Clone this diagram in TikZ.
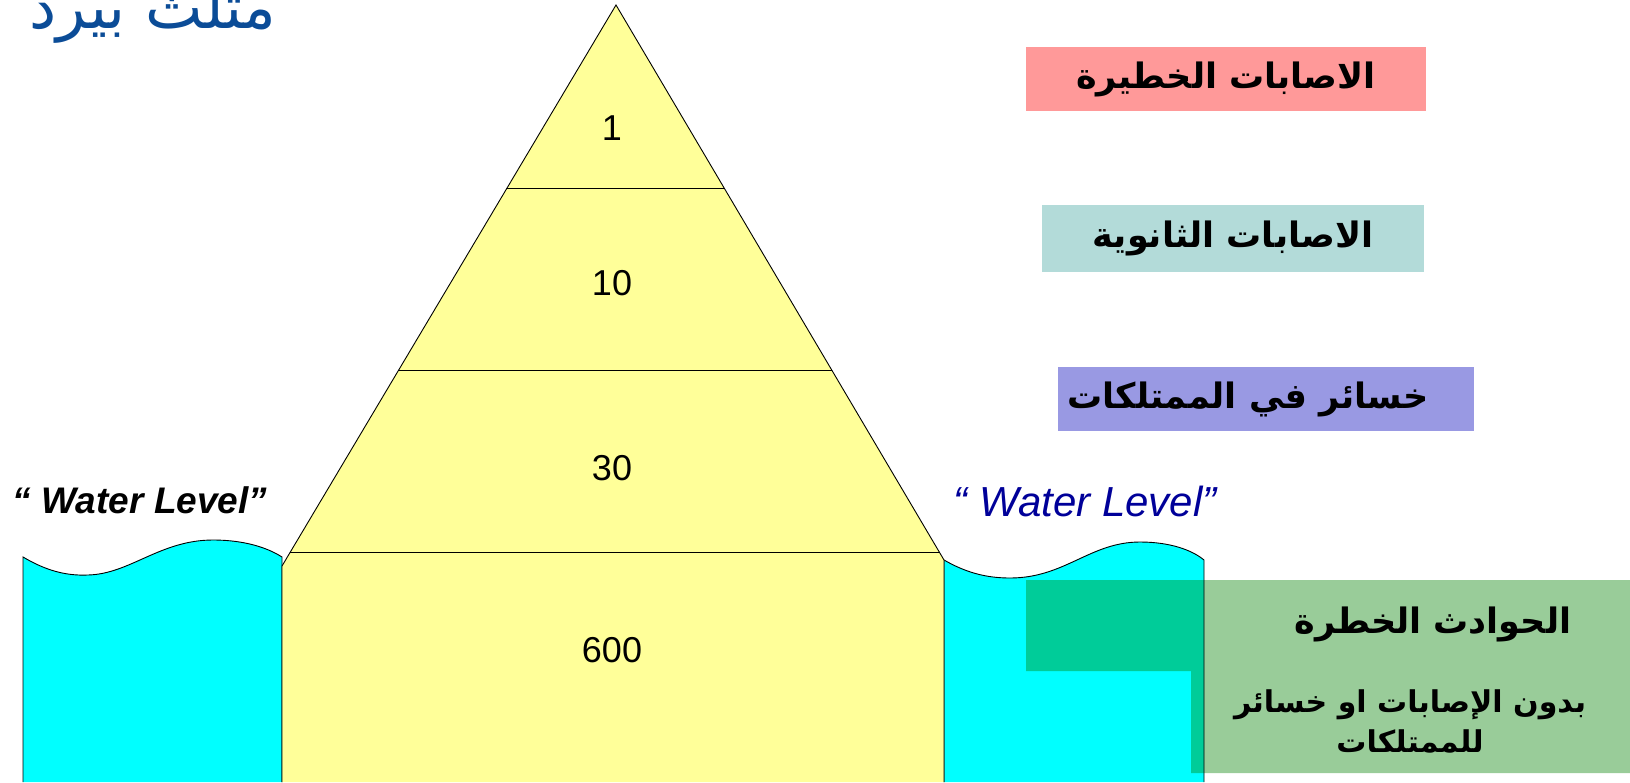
\documentclass[tikz,border=0pt]{standalone}
\usepackage{fontspec}
\setmainfont{Liberation Sans}
\newfontfamily\arabicfont[Script=Arabic]{DejaVu Sans}
\TeXXeTstate=1
\usepackage{tikz}
\usetikzlibrary{calc}
\usepackage{xcolor}
\definecolor{birdyellow}{HTML}{FFFF99}
\definecolor{birdcyan}{HTML}{00FFFF}
\definecolor{birdpink}{HTML}{FF9999}
\definecolor{birdteal}{HTML}{B3DBD9}
\definecolor{birdpurple}{HTML}{9999E3}
\definecolor{birdgreen}{HTML}{99CC99}
\definecolor{birdblue}{HTML}{0B4C97}
\definecolor{birdnavy}{HTML}{000099}
\newcommand{\ar}[1]{\arabicfont\beginR #1\endR}
\tikzset{
  water/.style={fill=birdcyan, draw=black, line width=0.9pt},
  edge/.style={draw=black, line width=0.9pt},
  count/.style={anchor=base, font=\fontsize{36}{40}\selectfont},
  tag/.style={inner sep=0pt, minimum width=400pt, minimum height=64pt,
              font=\bfseries\fontsize{35}{40}\selectfont},
  level/.style={anchor=base, font=\itshape\fontsize{34}{40}\selectfont},
}

\begin{document}
\begin{tikzpicture}[x=1pt, y=-1pt]
\useasboundingbox (0,0) rectangle (1630,782);
% water either side of the pyramid
\path[water] (23,782) -- (23,557)
  .. controls (45,570) and (65,576) .. (88,575)
  .. controls (130,574) and (160,540) .. (213,540)
  .. controls (245,540) and (268,548) .. (282,557) -- (282,782);
\path[water] (944,782) -- (944,560)
  .. controls (965,572) and (985,578) .. (1010,578)
  .. controls (1065,578) and (1090,542) .. (1140,542)
  .. controls (1170,542) and (1192,550) .. (1204,560) -- (1204,782);
% the pyramid
\fill[birdyellow] (616,5) -- (944,560) -- (944,782) -- (282,782) -- (282,566) -- cycle;
\begin{scope}
  \clip (616,5) -- (944,560) -- (944,782) -- (282,782) -- (282,566) -- cycle;
  \foreach \y in {188,370,552}
    \draw[edge] (250,\y) -- (1000,\y);
\end{scope}
\draw[edge] (282,782) -- (282,566) -- (616,5) -- (944,560) -- (944,782);
\node[count] (n1) at (612,140) {1};
\node[count] (n10) at (612,295) {10};
\node[count] (n30) at (612,480) {30};
\node[count] (n600) at (612,662) {600};
% title
\node[anchor=base, text=birdblue, font=\fontsize{61}{66}\selectfont] (title) at (153,28) {\ar{مثلث بيرد}};
% water level
\node[level, font=\bfseries\itshape\fontsize{37}{42}\selectfont] (lvlleft) at (140,513) {“ Water Level”};
\node[level, text=birdnavy, font=\itshape\fontsize{42}{48}\selectfont] (lvlright) at (1085,516) {“ Water Level”};
% categories
\node[tag, fill=birdpink] (severe) at (1226,79) {\ar{الاصابات الخطيرة}};
\node[tag, fill=birdteal, minimum width=382pt, minimum height=67pt] (minor) at (1233,238.5) {\ar{الاصابات الثانوية}};
\node[tag, fill=birdpurple, minimum width=416pt] (property) at (1266,399) {\ar{خسائر في الممتلكات}\hspace*{36pt}};
% near miss box, multiplied over the water
\begin{scope}[blend mode=multiply]
  \fill[birdgreen] (1026,580) -- (1630,580) -- (1630,773) -- (1191,773)
    -- (1191,671) -- (1026,671) -- cycle;
\end{scope}
\node[font=\bfseries\fontsize{35}{40}\selectfont] (nearmiss) at (1433,624) {\ar{الحوادث الخطرة}};
\node[align=center, font=\bfseries\fontsize{30}{40}\selectfont] (noloss) at (1410,721)
  {\ar{بدون الإصابات او خسائر}\\\ar{للممتلكات}};
\end{tikzpicture}
\end{document}
